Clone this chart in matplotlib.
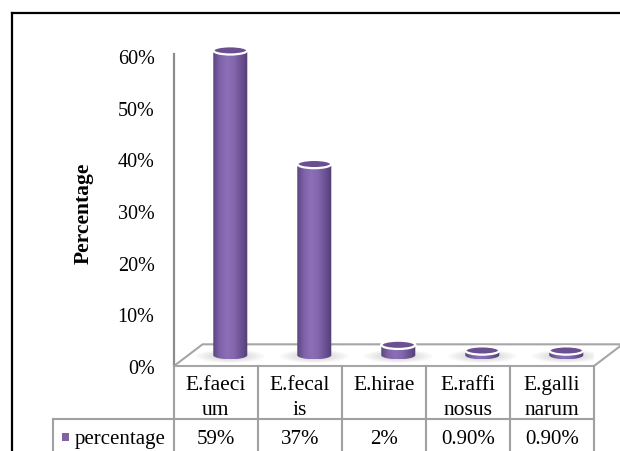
import numpy as np
import matplotlib.pyplot as plt
from matplotlib.patches import Polygon, Ellipse, Rectangle, PathPatch
from matplotlib.path import Path
from matplotlib.lines import Line2D
from matplotlib.colors import LinearSegmentedColormap

plt.rcParams["font.family"] = ["Liberation Serif", "DejaVu Serif"]

species = ["E.faeci\num", "E.fecal\nis", "E.hirae", "E.raffi\nnosus", "E.galli\nnarum"]
values = [59, 37, 2, 0.9, 0.9]
value_labels = ["59%", "37%", "2%", "0.90%", "0.90%"]
series_name = "percentage"
yticks = [0, 10, 20, 30, 40, 50, 60]

W, H = 620, 452
fig = plt.figure(figsize=(6.2, 4.52), dpi=100)


def fx(px):
    return px / W


def fy(py):
    return 1 - py / H


# 312 px for 60.4 % -> axes extended upward so tall cylinders are not clipped
px_per_unit = 312 / 60.4
y_top = 64.0
ax = fig.add_axes([fx(174), fy(367), fx(594) - fx(174), y_top * px_per_unit / H])
ax.set_facecolor("none")

# 3d look: floor depth and cylinder position in data units
depth_x, depth_y = 0.34, 4.2
cyl_w = 0.405
ell_h = 0.8
cyl_color = "#8064a2"
cyl_cmap = LinearSegmentedColormap.from_list(
    "cyl", ["#5b4480", "#7f62a8", "#8c6fb7", "#8468ae", "#6c5294", "#543d76"])

n = len(species)
floor = Polygon([(-0.5, 0), (n - 0.5, 0), (n - 0.5 + depth_x, depth_y), (-0.5 + depth_x, depth_y)],
                closed=True, facecolor="white", edgecolor="#a6a6a6", lw=1.5, zorder=1, clip_on=False)
ax.add_patch(floor)

grad = np.linspace(0, 1, 128)[None, :]
for i, v in enumerate(values):
    cx = i + depth_x / 2
    base = depth_y / 2
    top = base + v
    x0, x1 = cx - cyl_w / 2, cx + cyl_w / 2
    # soft shadow on the floor
    for k in range(6):
        s = 1.0 - k * 0.12
        ax.add_patch(Ellipse((cx, base - 0.2), cyl_w * 2.0 * s, ell_h * 3.2 * s,
                             facecolor="#7a7a7a", edgecolor="none", alpha=0.05, zorder=2))
    # body with horizontal shading
    t = np.linspace(np.pi, 2 * np.pi, 40)
    verts = [(cx + cyl_w / 2 * np.cos(a), base + ell_h * np.sin(a)) for a in t]
    verts += [(x1, top), (x0, top), verts[0]]
    codes = [Path.MOVETO] + [Path.LINETO] * (len(verts) - 2) + [Path.CLOSEPOLY]
    body = PathPatch(Path(verts, codes), facecolor="none", edgecolor="none", zorder=3)
    ax.add_patch(body)
    im = ax.imshow(grad, cmap=cyl_cmap, extent=[x0, x1, base - ell_h, top],
                   aspect="auto", interpolation="bicubic", zorder=3)
    im.set_clip_path(body)
    # top face
    ax.add_patch(Ellipse((cx, top), cyl_w, 2 * ell_h, facecolor="#6a5091",
                         edgecolor="white", lw=1.6, zorder=4))

ax.set_xlim(-0.5, n - 0.5)
ax.set_ylim(0, y_top)
ax.set_xticks([])
ax.set_yticks(yticks)
ax.set_yticklabels([f"{t}%" for t in yticks], fontsize=14.5)
ax.tick_params(axis="y", length=0, pad=14)
for side in ["top", "right", "bottom"]:
    ax.spines[side].set_visible(False)
ax.spines["left"].set_bounds(0, 60.4)
ax.spines["left"].set_color("#8c8c8c")
ax.spines["left"].set_linewidth(1.6)

fig.text(fx(84), fy(213), "Percentage", rotation=90, fontsize=15.5, fontweight="bold",
         ha="center", va="center")

# data table under the plot
grid_c = "#a0a0a0"
col_edges = np.arange(n + 1) - 0.5
disp = ax.transData
for xe in col_edges:
    px = disp.transform((xe, 0))[0]
    fig.add_artist(Line2D([px / W, px / W], [fy(367), 0], color=grid_c, lw=1.5))
right_px = disp.transform((col_edges[-1], 0))[0]
fig.add_artist(Line2D([fx(53), right_px / W], [fy(420), fy(420)], color=grid_c, lw=1.5))
fig.add_artist(Line2D([fx(53), fx(53)], [fy(420), 0], color=grid_c, lw=1.5))

for i, (name, lab) in enumerate(zip(species, value_labels)):
    px = disp.transform((i, 0))[0]
    fig.text(px / W, fy(376), name, fontsize=15.5, ha="center", va="top", linespacing=1.4)
    fig.text(px / W, fy(440), lab, fontsize=15, ha="center", va="center")

fig.add_artist(Rectangle((fx(62), fy(442)), fx(7), 8 / H, facecolor=cyl_color, edgecolor="none"))
fig.text(fx(75), fy(440), series_name, fontsize=15, ha="left", va="center")

# outer frame
fig.add_artist(Line2D([fx(12), 1], [fy(14), fy(14)], color="black", lw=1.6))
fig.add_artist(Line2D([fx(12), fx(12)], [fy(14), 0], color="black", lw=1.6))

fig.savefig("out.png", dpi=100)
